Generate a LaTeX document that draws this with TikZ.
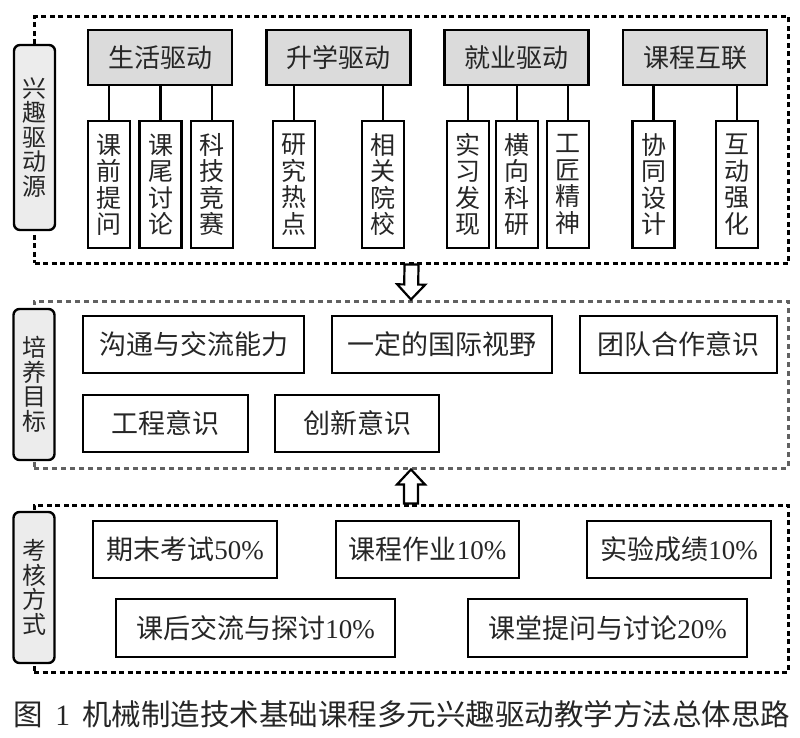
\documentclass[tikz,border=0pt]{standalone}
\usepackage{fontspec}
\setmainfont{Liberation Serif}
\newfontfamily\cjk{Noto Sans CJK SC}
\usepackage{tikz}
\usetikzlibrary{positioning,calc}
\tikzset{frame box/.style={draw,line width=3pt,dash pattern=on 5pt off 3.5pt,minimum width=754pt,inner sep=0pt}}
\tikzset{side node/.style={draw,line width=2.4pt,rounded corners=6pt,fill=gray!15,minimum width=41pt,inner sep=0pt,align=center,text=black!85,font=\cjk\fontsize{24}{24.5}\selectfont}}
\tikzset{head node/.style={draw,line width=2.6pt,fill=gray!28,minimum width=144pt,minimum height=55pt,inner sep=0pt,text=black!85,font=\cjk\fontsize{26}{28}\selectfont}}
\tikzset{leaf node/.style={draw,line width=2.6pt,minimum width=42pt,minimum height=127pt,inner sep=0pt,align=center,text=black!85,font=\cjk\fontsize{25}{26.5}\selectfont}}
\tikzset{goal node/.style={draw,line width=2.6pt,minimum height=57pt,inner sep=0pt,text=black!85,font=\cjk\fontsize{27}{29}\selectfont}}
\tikzset{hollow arrow/.style={draw,line width=2.2pt,fill=white,line join=miter}}
\newcommand{\hollowarrow}[2]{%
  \path ($(#2)!15pt!(#1)$) coordinate (hb);
  \draw[hollow arrow] ($(#1)!7pt!90:(#2)$) -- ($(hb)!7pt!90:(#2)$) -- ($(hb)!14pt!90:(#2)$) -- (#2)
    -- ($(hb)!14pt!-90:(#2)$) -- ($(hb)!7pt!-90:(#2)$) -- ($(#1)!7pt!-90:(#2)$) -- cycle;}

\begin{document}
\begin{tikzpicture}[x=1pt,y=-1pt]
  \useasboundingbox[fill=white] (0,0) rectangle (800,738);
  % frames
  \node[frame box,minimum height=246pt] (srcframe) at (411.5,140) {};
  \node[frame box,draw=black!62,dash pattern=on 5pt off 4pt,line width=3pt,minimum height=167pt] (goalframe) at (411,384.5) {};
  \node[frame box,minimum height=167pt] (examframe) at (411,588.5) {};
  \node[side node,minimum height=185pt] (src) at (34.5,137.5) {兴\\趣\\驱\\动\\源};
  \node[side node,minimum height=151pt] (goal) at (34,384.5) {培\\养\\目\\标};
  \node[side node,minimum height=151pt] (exam) at (34,587.5) {考\\核\\方\\式};

  % interest sources
  \node[head node] (h1) at (160,57.5) {生活驱动};
  \node[head node] (h2) at (338.5,57.5) {升学驱动};
  \node[head node] (h3) at (516.5,57.5) {就业驱动};
  \node[head node] (h4) at (695,57.5) {课程互联};
  \node[leaf node] (l11) at (109,184.5) {课\\前\\提\\问};
  \node[leaf node] (l12) at (160.5,184.5) {课\\尾\\讨\\论};
  \node[leaf node] (l13) at (212,184.5) {科\\技\\竞\\赛};
  \node[leaf node] (l21) at (294,184.5) {研\\究\\热\\点};
  \node[leaf node] (l22) at (383,184.5) {相\\关\\院\\校};
  \node[leaf node] (l31) at (468,184.5) {实\\习\\发\\现};
  \node[leaf node] (l32) at (517,184.5) {横\\向\\科\\研};
  \node[leaf node] (l33) at (568,184.5) {工\\匠\\精\\神};
  \node[leaf node] (l41) at (653.5,184.5) {协\\同\\设\\计};
  \node[leaf node] (l42) at (737,184.5) {互\\动\\强\\化};
  \foreach \h/\l in {h1/l11,h1/l12,h1/l13,h2/l21,h2/l22,h3/l31,h3/l32,h3/l33,h4/l41,h4/l42}
    \draw[line width=2.6pt] (\l.north |- \h.south) -- (\l.north);

  % goals
  \node[goal node,minimum width=221pt] (g1) at (193.5,344.5) {沟通与交流能力};
  \node[goal node,minimum width=220pt] (g2) at (442,344.5) {一定的国际视野};
  \node[goal node,minimum width=197pt] (g3) at (678.5,344.5) {团队合作意识};
  \node[goal node,minimum width=165pt] (g4) at (165.5,423.5) {工程意识};
  \node[goal node,minimum width=164pt] (g5) at (357,423.5) {创新意识};

  % assessment
  \node[goal node,minimum width=184pt] (e1) at (185,549.5) {期末考试{\rmfamily 50\%}};
  \node[goal node,minimum width=183pt] (e2) at (427.5,549.5) {课程作业{\rmfamily 10\%}};
  \node[goal node,minimum width=184pt] (e3) at (679,549.5) {实验成绩{\rmfamily 10\%}};
  \node[goal node,minimum width=279pt,minimum height=58pt] (e4) at (255.5,628) {课后交流与探讨{\rmfamily 10\%}};
  \node[goal node,minimum width=279pt,minimum height=58pt] (e5) at (607.5,628) {课堂提问与讨论{\rmfamily 20\%}};

  \hollowarrow{srcframe.south}{goalframe.north}
  \hollowarrow{examframe.north}{goalframe.south}

  \node[font=\cjk\fontsize{29.5}{31}\selectfont,text=black!85] (caption) at (402,714)
    {图\hspace{12pt}{\rmfamily 1}\hspace{12pt}机械制造技术基础课程多元兴趣驱动教学方法总体思路};
\end{tikzpicture}
\end{document}
